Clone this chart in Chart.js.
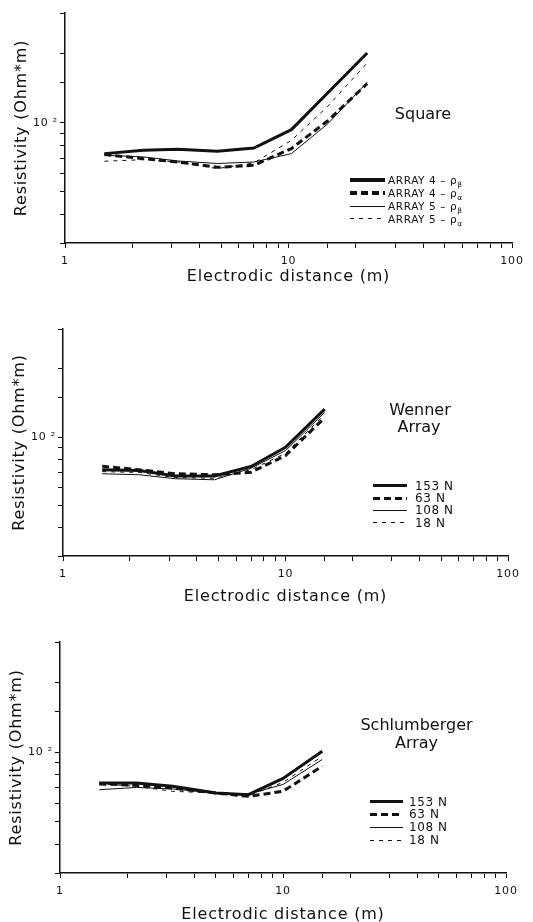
<!DOCTYPE html>
<html>
<head>
<meta charset="utf-8">
<script src="https://cdn.jsdelivr.net/npm/chart.js@4.4.1/dist/chart.umd.min.js"></script>
<style>
html,body{margin:0;padding:0;background:#fff;width:533px;height:922px;overflow:hidden;}
.panel{position:absolute;left:0;width:533px;}
.panel canvas{position:absolute;left:0;top:0;}
.note{position:absolute;width:160px;font-family:"DejaVu Sans";color:#111;font-size:16px;line-height:18px;text-align:center;}
.row{position:absolute;height:16px;line-height:16px;white-space:nowrap;font-family:"DejaVu Sans";color:#111;}
.row .smp{position:absolute;left:0;}
.row .txt{position:absolute;top:0;}
.row sub{font-size:70%;vertical-align:-3px;line-height:0;}
</style>
</head>
<body>
<div class="panel" style="top:0;height:300px;"><canvas id="c1" width="533" height="300"></canvas></div>
<div class="panel" style="top:310px;height:300px;"><canvas id="c2" width="533" height="300"></canvas></div>
<div class="panel" style="top:620px;height:310px;"><canvas id="c3" width="533" height="310"></canvas></div>
<div id="overlay"></div>
<script>
// ---------- data ----------
const xTickLabels = [1, 10, 100];
const yTickLabel = '10 \u00B2';
const xTitle = 'Electrodic distance (m)';
const yTitle = 'Resistivity (Ohm*m)';

// Square array
const squareDistance = [1.5, 2.25, 3.2, 4.8, 7, 10.3, 15, 22.5];
const squareA4Beta  = [73.4, 75.9, 76.6, 75.1, 77.6, 93.3, 135, 201];
const squareA4Alpha = [72.7, 69.8, 67.5, 64.0, 65.3, 77.2, 102, 148];
const squareA5Beta  = [72.2, 71.0, 68.2, 66.5, 67.5, 73.4, 99, 150];
const squareA5Alpha = [68.0, 69.1, 67.5, 63.2, 66.9, 83.8, 118, 182];
const squareNames = ['ARRAY 4 \u2013 \u03C1<sub>\u03B2</sub>', 'ARRAY 4 \u2013 \u03C1<sub>\u03B1</sub>', 'ARRAY 5 \u2013 \u03C1<sub>\u03B2</sub>', 'ARRAY 5 \u2013 \u03C1<sub>\u03B1</sub>'];

// Wenner array
const wennerDistance = [1.5, 2.2, 3.2, 4.8, 7, 10, 15];
const wenner153N = [71.9, 71.4, 67.5, 67.5, 74.4, 90.4, 133];
const wenner63N  = [74.6, 71.9, 69.1, 68.4, 70.2, 83.1, 122];
const wenner108N = [69.1, 68.4, 65.7, 65.0, 73.1, 87.4, 128.7];
const wenner18N  = [70.6, 70.0, 66.5, 66.0, 72.0, 85.0, 126];

// Schlumberger array
const schlumDistance = [1.5, 2.2, 3.2, 5, 7, 10, 15];
const schlum153N = [73.6, 73.6, 71.2, 66.6, 65.5, 77.0, 101];
const schlum63N  = [72.9, 71.9, 70.0, 66.6, 64.4, 67.7, 87];
const schlum108N = [68.8, 70.4, 69.3, 66.6, 65.9, 72.5, 93];
const schlum18N  = [73.0, 71.2, 67.7, 66.6, 64.8, 74.0, 96];

const loadNames = ['153 N', '63 N', '108 N', '18 N'];

// ---------- styling ----------
const INK = '#111';
const lineStyles = [
  {w: 3, dash: []},
  {w: 3, dash: [7, 4]},
  {w: 1, dash: []},
  {w: 1, dash: [4, 5]}
];

const spacingPlugin = {
  id: 'spacing',
  beforeDraw(chart) { chart.ctx.letterSpacing = '0.8px'; }
};

function makeChart(id, xs, series, names, g) {
  const datasets = series.map((ys, i) => ({
    label: names[i],
    data: xs.map((x, j) => ({x: x, y: ys[j]})),
    borderColor: INK,
    borderWidth: lineStyles[i].w,
    borderDash: lineStyles[i].dash,
    pointRadius: 0,
    tension: 0,
    fill: false
  }));
  return new Chart(document.getElementById(id), {
    type: 'line',
    data: {datasets: datasets},
    plugins: [spacingPlugin],
    options: {
      responsive: false,
      animation: false,
      devicePixelRatio: 1,
      layout: {padding: {top: g.top, right: g.right, left: 0, bottom: 0}},
      plugins: {legend: {display: false}, tooltip: {enabled: false}},
      scales: {
        x: {
          type: 'logarithmic', min: 1, max: 100, position: 'bottom',
          afterFit(s) { s.height = g.xh; },
          grid: {drawOnChartArea: false, drawTicks: true, tickLength: 5, color: INK, lineWidth: 1},
          border: {display: true, color: INK, width: 1.5},
          ticks: {
            autoSkip: false, maxRotation: 0, padding: g.xtp, color: INK,
            font: {family: 'DejaVu Sans', size: 11},
            callback: (v) => xTickLabels.some(t => Math.abs(t - v) < 1e-9) ? String(v) : ''
          },
          title: {display: true, text: xTitle, color: INK,
                  font: {family: 'DejaVu Sans', size: 16}, padding: {top: 0, bottom: g.xtb}}
        },
        y: {
          type: 'logarithmic', min: 30, max: 300, position: 'left',
          afterFit(s) { s.width = g.yw; },
          grid: {drawOnChartArea: false, drawTicks: true, tickLength: 5, color: INK, lineWidth: 1},
          border: {display: true, color: INK, width: 1.5},
          ticks: {
            autoSkip: false, padding: 2, color: INK,
            font: {family: 'DejaVu Sans', size: 11},
            callback: (v) => Math.abs(v - 100) < 1e-9 ? yTickLabel : ''
          },
          title: {display: true, text: yTitle, color: INK,
                  font: {family: 'DejaVu Sans', size: 16}, padding: {top: g.ytp, bottom: 0}}
        }
      }
    }
  });
}

makeChart('c1', squareDistance, [squareA4Beta, squareA4Alpha, squareA5Beta, squareA5Alpha], squareNames,
  {top: 13, right: 21, yw: 65, xh: 57, xtp: 7, xtb: 13.5, ytp: 12});
makeChart('c2', wennerDistance, [wenner153N, wenner63N, wenner108N, wenner18N], loadNames,
  {top: 19, right: 25, yw: 63, xh: 54, xtp: 7, xtb: 3.5, ytp: 10});
makeChart('c3', schlumDistance, [schlum153N, schlum63N, schlum108N, schlum18N], loadNames,
  {top: 22, right: 27, yw: 60, xh: 57, xtp: 7, xtb: 5.5, ytp: 7});

// ---------- annotations & legends (HTML text) ----------
const overlay = document.getElementById('overlay');
function note(text, cx, cy) {
  const d = document.createElement('div');
  d.className = 'note';
  d.style.left = (cx - 80) + 'px';
  d.style.top = (cy - 9) + 'px';
  d.textContent = text;
  overlay.appendChild(d);
}
function sampleStyle(i) {
  const s = lineStyles[i];
  if (!s.dash.length) return 'background:' + INK + ';';
  const on = s.dash[0], off = s.dash[1];
  return 'background:repeating-linear-gradient(90deg,' + INK + ' 0 ' + on + 'px,transparent ' + on + 'px ' + (on + off) + 'px);';
}
function legend(names, rowsY, x0, x1, tx, fs) {
  names.forEach((n, i) => {
    const r = document.createElement('div');
    r.className = 'row';
    r.style.left = x0 + 'px';
    r.style.top = (rowsY[i] - 8) + 'px';
    r.style.fontSize = fs + 'px';
    const w = lineStyles[i].w + (lineStyles[i].w > 1 ? 0.5 : 0);
    r.innerHTML = '<div class="smp" style="top:' + (8 - w / 2) + 'px;width:' + (x1 - x0) + 'px;height:' + w + 'px;' + sampleStyle(i) + '"></div>' +
                  '<span class="txt" style="left:' + (tx - x0) + 'px;letter-spacing:0.6px;">' + n + '</span>';
    overlay.appendChild(r);
  });
}

note('Square', 423, 114);
legend(squareNames, [180, 193, 206, 218.5], 350, 385, 388, 10.5);

note('Wenner', 420, 410);
note('Array', 419, 427);
legend(loadNames, [485.7, 498.3, 510, 522.7], 373, 407, 415, 12);

note('Schlumberger', 416.5, 725);
note('Array', 416.5, 743);
legend(loadNames, [801.7, 814.3, 827.3, 840], 370, 403, 409, 12);
</script>
</body>
</html>
